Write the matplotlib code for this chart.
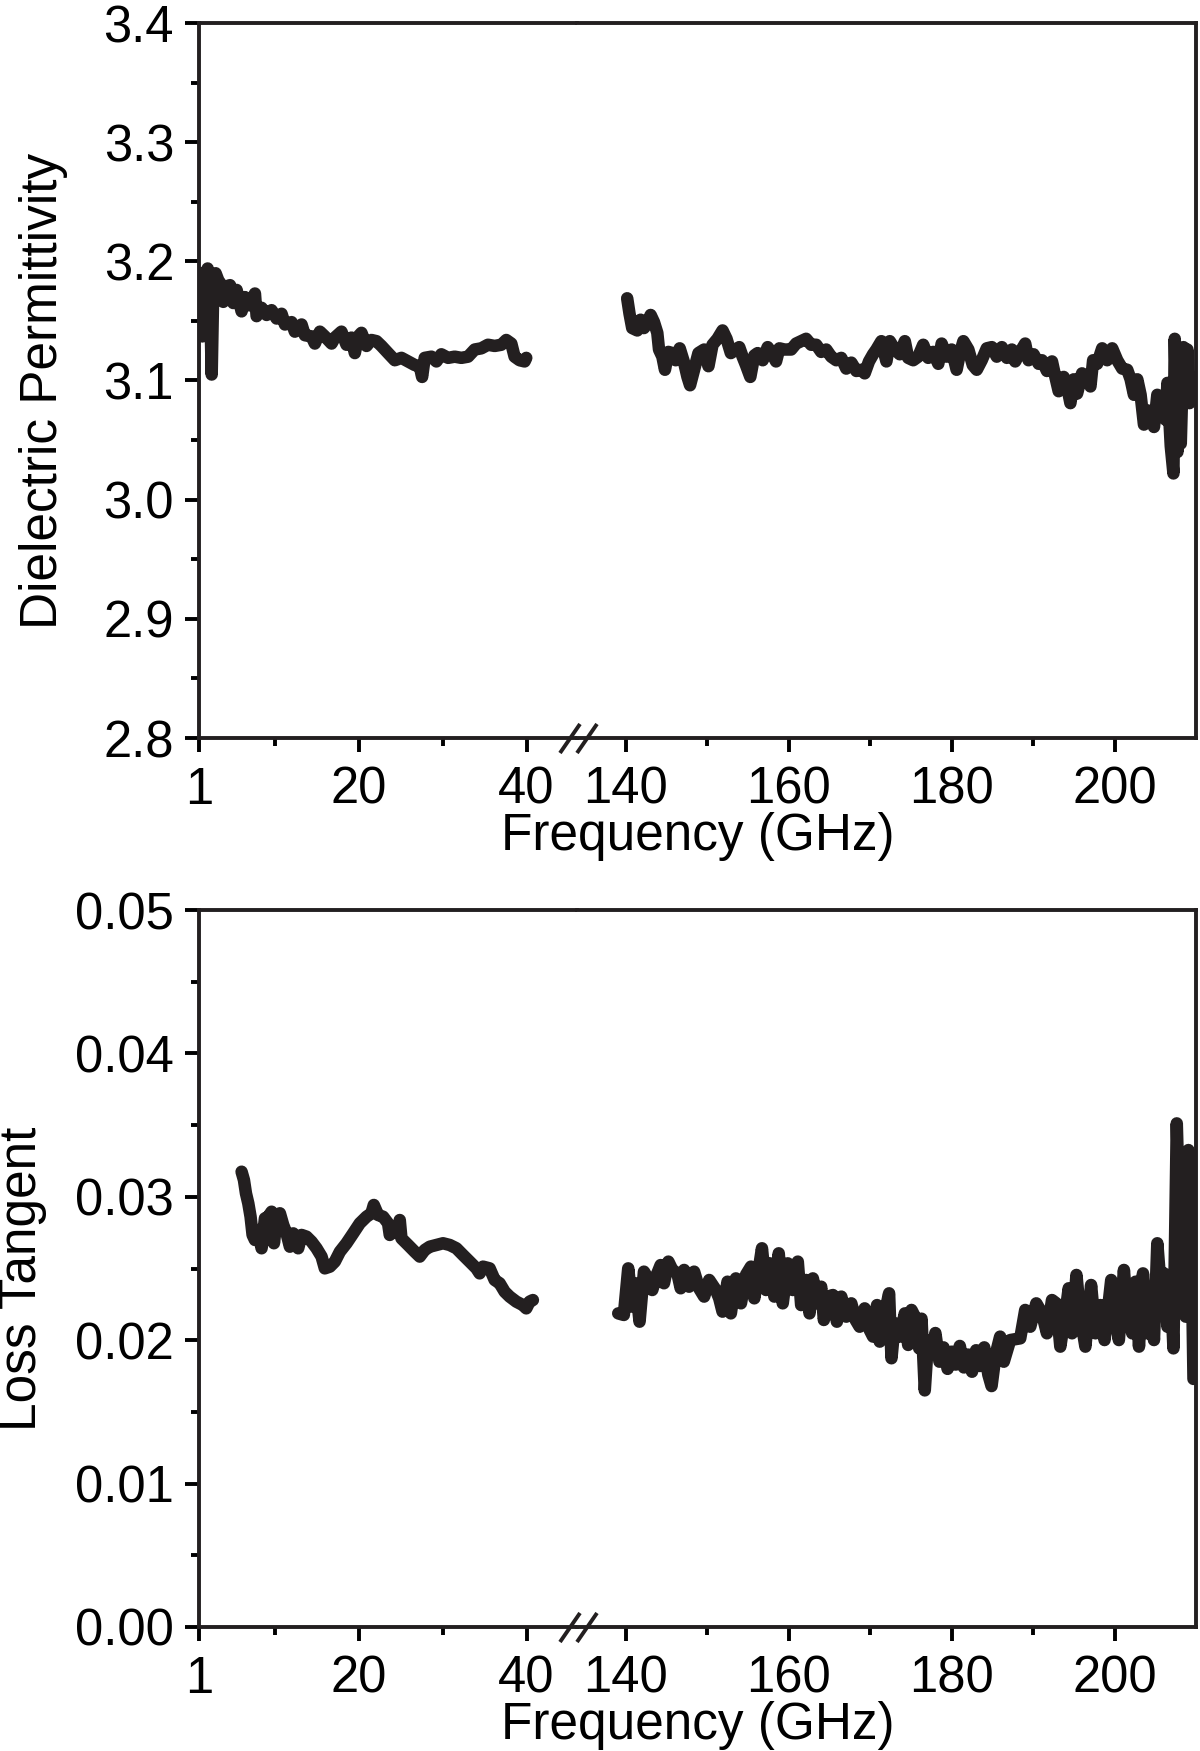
import matplotlib
matplotlib.use('Agg')
import matplotlib.pyplot as plt
from matplotlib.lines import Line2D
from matplotlib.ticker import FixedLocator, FormatStrFormatter

# Estilo geral (Arial-like)
plt.rcParams['font.family'] = ['Liberation Sans', 'DejaVu Sans']
plt.rcParams['font.size'] = 36.5
plt.rcParams['axes.linewidth'] = 2.8

LINE_COLOR = '#231f20'

# ---- Dielectric permittivity, 1-40 GHz ----
freq_eps_lo = [1.0, 1.12, 1.40, 1.71, 2.03, 2.31, 2.51, 2.71, 2.98, 3.30, 3.70, 3.89, 4.29,
               4.69, 5.08, 5.48, 6.07, 6.47, 7.06, 7.66, 7.86, 8.45, 9.05, 9.64, 10.24,
               10.83, 11.23, 12.02, 12.41, 13.21, 13.60, 14.40, 14.79, 15.39, 15.98, 16.78,
               17.17, 17.96, 18.56, 19.15, 19.55, 19.95, 20.34, 20.94, 21.53, 22.13, 22.72,
               23.51, 24.31, 25.10, 25.89, 26.68, 27.28, 27.56, 27.87, 28.67, 29.26, 29.85,
               30.65, 31.44, 32.23, 33.03, 33.82, 34.61, 35.40, 36.20, 36.99, 37.58, 38.18,
               38.57, 39.17, 39.76, 39.96]
eps_lo = [3.168, 3.190, 3.137, 3.187, 3.194, 3.176, 3.105, 3.182, 3.190, 3.184, 3.180, 3.166,
          3.179, 3.180, 3.165, 3.176, 3.158, 3.170, 3.163, 3.173, 3.154, 3.161, 3.155, 3.159,
          3.152, 3.156, 3.147, 3.149, 3.141, 3.147, 3.138, 3.137, 3.131, 3.141, 3.137, 3.131,
          3.136, 3.141, 3.130, 3.136, 3.123, 3.137, 3.140, 3.129, 3.134, 3.133, 3.129, 3.123,
          3.117, 3.119, 3.116, 3.113, 3.112, 3.103, 3.119, 3.120, 3.116, 3.122, 3.119, 3.120,
          3.119, 3.120, 3.126, 3.127, 3.130, 3.129, 3.130, 3.134, 3.131, 3.120, 3.117, 3.116,
          3.119]

# ---- Dielectric permittivity, 140-210 GHz ----
freq_eps_hi = [140.16, 140.45, 140.78, 141.40, 141.81, 142.22, 142.63, 143.04, 143.45, 143.86,
               144.07, 144.48, 144.80, 145.22, 145.71, 146.12, 146.61, 147.15, 147.56, 147.88,
               148.38, 148.91, 149.61, 150.14, 150.64, 151.25, 151.87, 152.36, 152.89, 153.51,
               153.92, 154.33, 154.74, 155.28, 155.77, 156.18, 156.80, 157.41, 157.82, 158.44,
               158.85, 159.47, 160.29, 160.90, 161.52, 162.13, 162.75, 163.37, 163.98, 164.60,
               165.21, 165.83, 166.45, 167.06, 167.68, 168.30, 168.91, 169.32, 169.85, 170.35,
               170.76, 171.37, 171.99, 172.40, 173.02, 173.63, 174.25, 174.66, 175.28, 175.89,
               176.51, 177.12, 177.74, 178.36, 178.77, 179.38, 180.00, 180.61, 181.02, 181.44,
               182.05, 182.59, 183.08, 183.69, 184.31, 184.93, 185.54, 186.16, 186.78, 187.39,
               187.80, 188.42, 189.03, 189.44, 190.06, 190.68, 191.09, 191.70, 192.32, 192.73,
               193.14, 193.75, 194.17, 194.58, 194.99, 195.40, 196.01, 196.63, 197.04, 197.37,
               197.86, 198.48, 199.09, 199.71, 200.33, 200.94, 201.56, 201.97, 202.38, 202.79,
               203.20, 203.61, 204.02, 204.43, 204.84, 205.25, 205.66, 206.28, 206.49, 206.90,
               207.23, 207.39, 207.72, 207.92, 208.13, 208.46, 208.74, 208.95, 209.20, 209.57,
               209.98]
eps_hi = [3.169, 3.156, 3.144, 3.142, 3.151, 3.144, 3.148, 3.155, 3.149, 3.140,
          3.126, 3.120, 3.109, 3.124, 3.123, 3.117, 3.127, 3.115, 3.103, 3.096,
          3.109, 3.123, 3.126, 3.112, 3.130, 3.135, 3.142, 3.135, 3.123, 3.126,
          3.128, 3.120, 3.113, 3.103, 3.121, 3.123, 3.117, 3.128, 3.124, 3.116,
          3.127, 3.126, 3.126, 3.131, 3.133, 3.135, 3.130, 3.130, 3.124, 3.126,
          3.120, 3.117, 3.119, 3.110, 3.115, 3.108, 3.109, 3.106, 3.116, 3.122,
          3.126, 3.133, 3.116, 3.133, 3.126, 3.122, 3.133, 3.119, 3.117, 3.120,
          3.130, 3.119, 3.124, 3.114, 3.131, 3.120, 3.126, 3.109, 3.123, 3.133,
          3.126, 3.113, 3.109, 3.117, 3.127, 3.128, 3.120, 3.128, 3.119, 3.126,
          3.116, 3.124, 3.131, 3.117, 3.122, 3.114, 3.117, 3.108, 3.116, 3.103,
          3.091, 3.103, 3.095, 3.081, 3.101, 3.089, 3.106, 3.103, 3.095, 3.117,
          3.114, 3.127, 3.117, 3.127, 3.117, 3.110, 3.109, 3.101, 3.088, 3.101,
          3.088, 3.063, 3.075, 3.072, 3.061, 3.088, 3.075, 3.067, 3.098, 3.045,
          3.022, 3.135, 3.040, 3.095, 3.047, 3.128, 3.101, 3.126, 3.081, 3.103,
          3.092]

# ---- Loss tangent, 1-40 GHz ----
freq_tan_lo = [6.07, 6.35, 6.59, 6.87, 7.14, 7.38, 7.66, 8.05, 8.45, 8.85, 9.24, 9.64, 9.92,
               10.24, 10.63, 11.03, 11.42, 11.82, 12.22, 12.81, 13.21, 13.80, 14.40, 14.99,
               15.59, 15.98, 16.58, 17.17, 17.77, 18.56, 19.35, 20.14, 20.94, 21.53, 21.81,
               22.32, 22.92, 23.51, 23.71, 24.31, 24.70, 24.90, 25.10, 25.89, 26.68, 27.28,
               27.87, 28.47, 29.26, 30.05, 30.85, 31.64, 32.43, 33.22, 34.02, 34.41, 34.81,
               35.60, 36.20, 36.79, 37.39, 37.98, 38.77, 39.56, 39.96, 40.36, 40.75]
tan_lo = [0.03175, 0.03117, 0.03024, 0.02954, 0.02861, 0.02734, 0.02699, 0.02768, 0.02641,
          0.02850, 0.02861, 0.02896, 0.02676, 0.02838, 0.02885, 0.02803, 0.02745, 0.02652,
          0.02745, 0.02641, 0.02734, 0.02722, 0.02687, 0.02641, 0.02583, 0.02501, 0.02513,
          0.02548, 0.02617, 0.02676, 0.02745, 0.02815, 0.02861, 0.02885, 0.02943, 0.02873,
          0.02861, 0.02815, 0.02734, 0.02768, 0.02745, 0.02838, 0.02710, 0.02664, 0.02617,
          0.02583, 0.02629, 0.02652, 0.02664, 0.02676, 0.02664, 0.02641, 0.02594, 0.02548,
          0.02501, 0.02466, 0.02513, 0.02501, 0.02420, 0.02397, 0.02338, 0.02304, 0.02269,
          0.02245, 0.02222, 0.02269, 0.02280]

# ---- Loss tangent, 140-210 GHz ----
freq_tan_hi = [139.06, 139.75, 140.29, 140.78, 141.19, 141.68, 142.22, 142.83, 143.24, 143.86,
               144.27, 144.68, 145.22, 145.71, 146.32, 146.73, 147.15, 147.76, 148.38, 148.99,
               149.61, 150.23, 151.05, 151.46, 151.87, 152.48, 152.89, 153.51, 154.13, 154.74,
               155.36, 155.77, 156.30, 156.71, 157.21, 157.70, 158.23, 158.77, 159.26, 159.88,
               160.49, 161.11, 161.52, 162.13, 162.55, 162.96, 163.57, 163.98, 164.31, 164.80,
               165.42, 165.91, 166.45, 167.06, 167.68, 168.21, 168.70, 169.32, 169.94, 170.35,
               170.84, 171.17, 171.79, 172.32, 172.61, 173.02, 173.63, 174.25, 174.66, 175.07,
               175.69, 176.01, 176.3, 176.7, 177.1, 177.6, 178.0, 178.5, 179.0, 179.5,
               180.0, 180.5, 181.0, 181.5, 182.0, 182.5, 183.0, 183.5, 184.0, 184.5,
               184.9, 185.4, 185.95, 186.4, 187.19, 188.42, 189.03, 189.65, 190.39, 191.09,
               191.70, 192.32, 192.85, 193.34, 193.96, 194.37, 194.78, 195.32, 195.81, 196.42,
               197.12, 197.66, 198.27, 198.77, 199.59, 200.12, 200.53, 201.15, 201.56, 202.17,
               202.58, 203.00, 203.49, 204.02, 204.43, 204.84, 205.25, 205.66, 206.08, 206.49,
               206.90, 207.23, 207.64, 208.13, 208.46, 208.74, 209.07, 209.36, 209.69, 210.0]
tan_hi = [0.02187, 0.02176, 0.02501, 0.02234, 0.02397, 0.02129, 0.02478, 0.02420, 0.02350,
          0.02466, 0.02524, 0.02397, 0.02548, 0.02490, 0.02466, 0.02362, 0.02490, 0.02373,
          0.02478, 0.02362, 0.02304, 0.02420, 0.02350, 0.02292, 0.02199, 0.02408, 0.02187,
          0.02431, 0.02257, 0.02455, 0.02513, 0.02292, 0.02490, 0.02641, 0.02350, 0.02536,
          0.02304, 0.02606, 0.02257, 0.02536, 0.02350, 0.02548, 0.02245, 0.02420, 0.02187,
          0.02431, 0.02257, 0.02373, 0.02141, 0.02304, 0.02315, 0.02129, 0.02304, 0.02164,
          0.02257, 0.02141, 0.02094, 0.02222, 0.02071, 0.02025, 0.02245, 0.01990, 0.02187,
          0.02327, 0.01874, 0.02118, 0.02025, 0.02187, 0.01967, 0.02211, 0.02141, 0.01943,
          0.0215, 0.0165, 0.0200, 0.0190, 0.0205, 0.0185, 0.0195, 0.0180, 0.0192, 0.0183,
          0.0196, 0.0181, 0.0190, 0.0178, 0.0193, 0.0182, 0.0195, 0.0176, 0.0168, 0.0190,
          0.02025, 0.0185, 0.02001, 0.02013, 0.02211, 0.02094, 0.02257, 0.02187, 0.02048,
          0.02280, 0.02257, 0.01955, 0.02187, 0.02362, 0.02048, 0.02455, 0.02164, 0.01955,
          0.02385, 0.02048, 0.02245, 0.02001, 0.02420, 0.02141, 0.02001, 0.02490, 0.02187,
          0.02048, 0.02408, 0.01955, 0.02466, 0.02048, 0.02280, 0.02001, 0.02676, 0.02373,
          0.02466, 0.02094, 0.02373, 0.01943, 0.03512, 0.02513, 0.03001, 0.02164, 0.03326,
          0.02978, 0.0173, 0.0175]

# Ticks
xticks_lo = [1, 20, 40]
xminor_lo = [10, 30]
xticks_hi = [140, 160, 180, 200]
xminor_hi = [150, 170, 190]
eps_ticks = [2.8, 2.9, 3.0, 3.1, 3.2, 3.3, 3.4]
tan_ticks = [0.00, 0.01, 0.02, 0.03, 0.04, 0.05]

# Layout (fracoes da figura)
W, H = 1200, 1751
X_LEFT, X_BREAK, X_RIGHT = 199 / W, 577 / W, 1196 / W

fig = plt.figure(figsize=(12, 17.51), dpi=100)


def style_axis(ax):
    ax.tick_params(which='major', direction='out', length=10, width=2.8, pad=8)
    ax.tick_params(which='minor', direction='out', length=5.5, width=2.8)
    ax.tick_params(axis='x', pad=10)
    ax.tick_params(top=False, right=False)


def draw_panel(y_top_px, y_bot_px, f_lo, v_lo, f_hi, v_hi, ylim, yticks, yfmt, ylabel, label_x):
    bottom = 1 - y_bot_px / H
    height = (y_bot_px - y_top_px) / H
    ax_lo = fig.add_axes([X_LEFT, bottom, X_BREAK - X_LEFT, height])
    ax_hi = fig.add_axes([X_BREAK, bottom, X_RIGHT - X_BREAK, height])

    ax_lo.plot(f_lo, v_lo, color=LINE_COLOR, lw=9, solid_joinstyle='round',
               solid_capstyle='round')
    ax_hi.plot(f_hi, v_hi, color=LINE_COLOR, lw=9, solid_joinstyle='round',
               solid_capstyle='round')

    ax_lo.set_xlim(1, 46)
    ax_hi.set_xlim(134, 210)
    for ax in (ax_lo, ax_hi):
        ax.set_ylim(*ylim)
        style_axis(ax)
        for s in ax.spines.values():
            s.set_color(LINE_COLOR)
    ax_lo.spines['right'].set_visible(False)
    ax_hi.spines['left'].set_visible(False)

    ax_lo.xaxis.set_major_locator(FixedLocator(xticks_lo))
    ax_lo.xaxis.set_minor_locator(FixedLocator(xminor_lo))
    ax_hi.xaxis.set_major_locator(FixedLocator(xticks_hi))
    ax_hi.xaxis.set_minor_locator(FixedLocator(xminor_hi))

    ax_lo.yaxis.set_major_locator(FixedLocator(yticks))
    step = yticks[1] - yticks[0]
    ax_lo.yaxis.set_minor_locator(FixedLocator([t + step / 2 for t in yticks[:-1]]))
    ax_lo.yaxis.set_major_formatter(FormatStrFormatter(yfmt))
    ax_hi.tick_params(axis='y', which='both', left=False, labelleft=False)

    # marca de quebra "//" no eixo x
    yb = y_bot_px
    for dx in (0, 17):
        fig.add_artist(Line2D([(560 + dx) / W, (580 + dx) / W],
                              [1 - (yb + 15) / H, 1 - (yb - 14) / H],
                              color=LINE_COLOR, lw=2.8, solid_capstyle='butt'))

    # rotulos
    fig.text(label_x / W, 1 - (y_top_px + y_bot_px) / 2 / H - 0.006, ylabel,
             rotation=90, ha='center', va='center', fontsize=37)
    fig.text(698 / W, 1 - (yb + 98) / H, 'Frequency (GHz)',
             ha='center', va='center', fontsize=37)
    return ax_lo, ax_hi


draw_panel(23, 738, freq_eps_lo, eps_lo, freq_eps_hi, eps_hi, (2.8, 3.4),
           eps_ticks, '%.1f', 'Dielectric Permittivity', 44)
draw_panel(910, 1627, freq_tan_lo, tan_lo, freq_tan_hi, tan_hi, (0.0, 0.05),
           tan_ticks, '%.2f', 'Loss Tangent', 23)

plt.savefig('out.png', dpi=100, facecolor='white')
